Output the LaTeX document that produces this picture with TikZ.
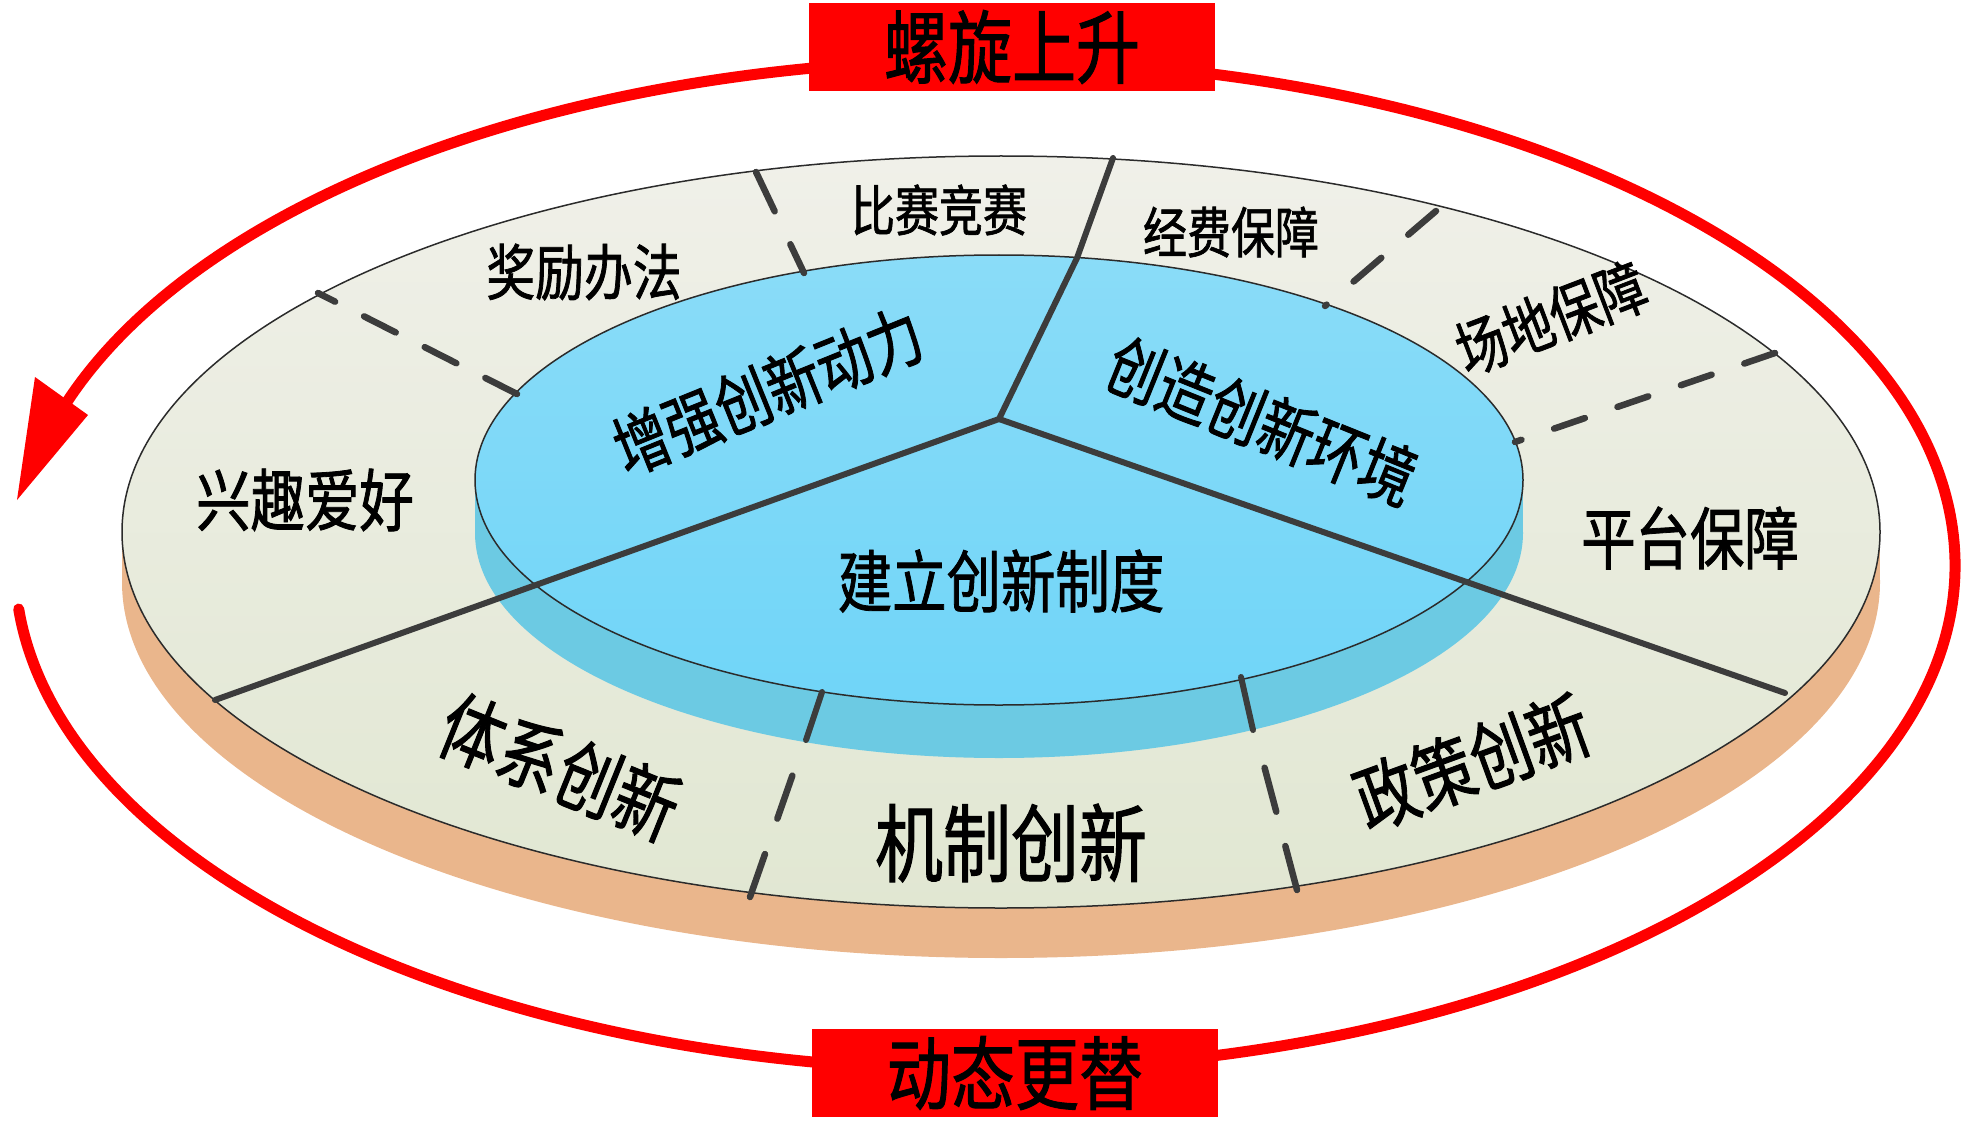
\documentclass[tikz,border=0pt]{standalone}
\usepackage{fontspec}
\newfontfamily\cjk[FakeStretch=0.8, FakeBold=1.2]{Noto Sans CJK SC}
\definecolor{ringred}{HTML}{FF0000}
\definecolor{facetop}{HTML}{F0F0E9}
\definecolor{facebot}{HTML}{E1E7D2}
\definecolor{sidetan}{HTML}{EAB68C}
\definecolor{bluetop}{HTML}{8ADCF8}
\definecolor{bluebot}{HTML}{70D5F8}
\definecolor{blueside}{HTML}{6CCAE3}
\definecolor{divider}{HTML}{3C3C3C}
\definecolor{rim}{HTML}{2B2B2B}
\tikzset{
  ring/.style={draw=ringred, line width=11pt},
  rimline/.style={draw=rim, line width=1.5pt},
  solidsep/.style={draw=divider, line width=6pt, line cap=round, line join=round},
  dashsep/.style={draw=divider, line width=6.5pt, line cap=round},
  lbl/.style={font=\cjk\fontsize{#1}{#1}\selectfont, inner sep=0pt},
  banner/.style={fill=ringred, minimum width=406pt, minimum height=88pt, inner sep=0pt, font=\cjk\fontsize{80}{80}\selectfont}
}
\begin{document}
\begin{tikzpicture}[x=1pt,y=-1pt]
\useasboundingbox (0,0) rectangle (1969,1123);
% red ring
\draw[ring] ([shift={(985,565)}]95:970pt and 505pt) arc[start angle=95, end angle=163, x radius=970pt, y radius=505pt];
\fill[ringred] (35,377) -- (88,415) -- (17,500) -- cycle;
\draw[ring, line cap=round] ([shift={(985,565)}]185:970pt and 505pt) arc[start angle=185, end angle=265, x radius=970pt, y radius=505pt];
\draw[ring] ([shift={(985,565)}]275:970pt and 505pt) arc[start angle=275, end angle=445, x radius=970pt, y radius=505pt];
% outer disc
\fill[sidetan] (122,532) rectangle (1880,582);
\fill[sidetan] (1001,582) ellipse [x radius=879pt, y radius=376pt];
\shade[top color=facetop, bottom color=facebot] (1001,532) ellipse [x radius=879pt, y radius=376pt];
\draw[rimline] (1001,532) ellipse [x radius=879pt, y radius=376pt];
% inner cylinder
\fill[blueside] (475,480) rectangle (1523,533);
\fill[blueside] (999,533) ellipse [x radius=524pt, y radius=225pt];
\shade[top color=bluetop, bottom color=bluebot] (999,480) ellipse [x radius=524pt, y radius=225pt];
\draw[rimline] (999,480) ellipse [x radius=524pt, y radius=225pt];
% dividers
\coordinate (hub) at (999,419);
\coordinate (topin) at (1077,258);
\coordinate (topout) at (1113,158);
\coordinate (llout) at (215,700);
\coordinate (lrout) at (1785,693);
\draw[solidsep] (hub) -- (topin) -- (topout);
\draw[solidsep] (hub) -- (llout);
\draw[solidsep] (hub) -- (lrout);
\coordinate (d1i) at (517,394);  \coordinate (d1o) at (318,293);
\coordinate (d2o) at (756,172);  \coordinate (d2i) at (804,273);
\coordinate (d3o) at (1436,211); \coordinate (d3i) at (1325,306);
\coordinate (d4o) at (1775,353); \coordinate (d4i) at (1515,442);
\coordinate (d5o) at (750,897);  \coordinate (d5i) at (795,768);
\coordinate (d6o) at (1297,890); \coordinate (d6i) at (1262,758);
\coordinate (b5t) at (822,692);  \coordinate (b5b) at (806,740);
\coordinate (b6t) at (1241,677); \coordinate (b6b) at (1253,730);
\draw[dashsep, dash pattern=on 35.5pt off 32.5pt] (d1i) -- (d1o);
\draw[dashsep, dash pattern=on 43.5pt off 36.5pt] (d2o) -- (d2i);
\draw[dashsep, dash pattern=on 36.5pt off 35.5pt] (d3o) -- (d3i);
\draw[dashsep, dash pattern=on 32.5pt off 34.5pt] (d4o) -- (d4i);
\draw[dashsep, dash pattern=on 45.5pt off 37.5pt] (d5o) -- (d5i);
\draw[dashsep, dash pattern=on 45.5pt off 35.5pt] (d6o) -- (d6i);
\draw[solidsep] (b5t) -- (b5b);
\draw[solidsep] (b6t) -- (b6b);
% labels
\node[lbl=61] (jiangli) at (584,272) {奖励办法};
\node[lbl=55] (bisai) at (939,210) {比赛竞赛};
\node[lbl=55] (jingfei) at (1231,232) {经费保障};
\node[lbl=62, rotate=21] (changdi) at (1551,318) {场地保障};
\node[lbl=68] (xingqu) at (305,500) {兴趣爱好};
\node[lbl=68] (pingtai) at (1690,538) {平台保障};
\node[lbl=68, rotate=22] (zengqiang) at (768,391) {增强创新动力};
\node[lbl=68, rotate=-22] (chuangzao) at (1262,421) {创造创新环境};
\node[lbl=68] (jianli) at (1001,581) {建立创新制度};
\node[lbl=78, rotate=-22] (tixi) at (560,767) {体系创新};
\node[lbl=85] (jizhi) at (1011,843) {机制创新};
\node[lbl=76, rotate=20] (zhengce) at (1472,762) {政策创新};
% banners
\node[banner] (rise) at (1012,47) {螺旋上升};
\node[banner] (alt) at (1015,1073) {动态更替};
\end{tikzpicture}
\end{document}
